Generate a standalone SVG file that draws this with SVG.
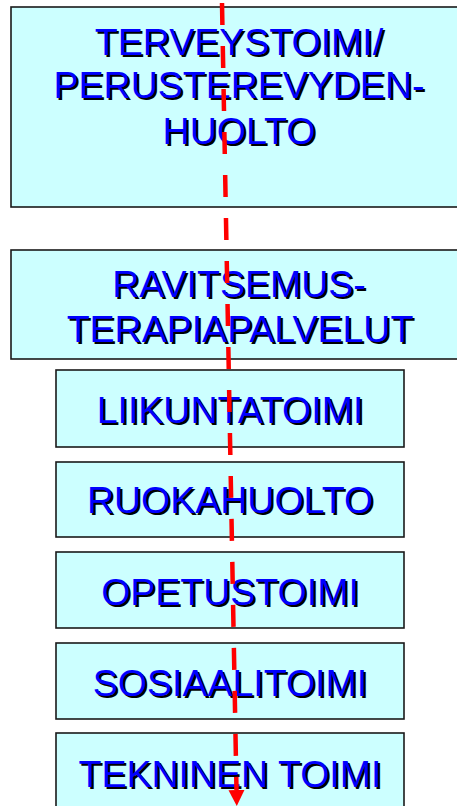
<svg xmlns="http://www.w3.org/2000/svg" width="457" height="806" viewBox="0 0 457 806">
<style>
.box{fill:#CCFFFF;stroke:#1a1a1a;stroke-width:1.6}
.t{font-family:"Liberation Sans",Arial,sans-serif;font-size:37.5px;text-anchor:middle}
.sh{fill:#000}
.fg{fill:#0000FF}
.conn{stroke:#FF0000;stroke-width:4.5;stroke-dasharray:22 21;fill:none}
</style>
<defs>
<marker id="arr" viewBox="0 0 10 10" refX="0" refY="5" markerWidth="16" markerHeight="19" markerUnits="userSpaceOnUse" orient="auto">
<path d="M0,0 L10,5 L0,10 z" fill="#FF0000"/>
</marker>
</defs>
<rect width="457" height="806" fill="#FFFFFF"/>
<g id="n1">
<rect class="box" x="11" y="7" width="460" height="200"/>
<text class="t sh" x="241" y="57">TERVEYSTOIMI/</text>
<text class="t fg" x="239" y="55">TERVEYSTOIMI/</text>
<text class="t sh" x="241" y="100">PERUSTEREVYDEN-</text>
<text class="t fg" x="239" y="98">PERUSTEREVYDEN-</text>
<text class="t sh" x="241" y="146">HUOLTO</text>
<text class="t fg" x="239" y="144">HUOLTO</text>
</g>
<g id="n2">
<rect class="box" x="11" y="250" width="460" height="109"/>
<text class="t sh" x="241" y="299">RAVITSEMUS-</text>
<text class="t fg" x="239" y="297">RAVITSEMUS-</text>
<text class="t sh" x="242" y="344">TERAPIAPALVELUT</text>
<text class="t fg" x="240" y="342">TERAPIAPALVELUT</text>
</g>
<g id="n3">
<rect class="box" x="56" y="370" width="348" height="77"/>
<text class="t sh" x="232" y="425">LIIKUNTATOIMI</text>
<text class="t fg" x="230" y="423">LIIKUNTATOIMI</text>
</g>
<g id="n4">
<rect class="box" x="56" y="462" width="348" height="75"/>
<text class="t sh" x="232" y="515">RUOKAHUOLTO</text>
<text class="t fg" x="230" y="513">RUOKAHUOLTO</text>
</g>
<g id="n5">
<rect class="box" x="56" y="552" width="348" height="76"/>
<text class="t sh" x="232" y="607">OPETUSTOIMI</text>
<text class="t fg" x="230" y="605">OPETUSTOIMI</text>
</g>
<g id="n6">
<rect class="box" x="56" y="643" width="348" height="76"/>
<text class="t sh" x="232" y="698">SOSIAALITOIMI</text>
<text class="t fg" x="230" y="696">SOSIAALITOIMI</text>
</g>
<g id="n7">
<rect class="box" x="56" y="733" width="348" height="90"/>
<text class="t sh" x="232" y="789">TEKNINEN TOIMI</text>
<text class="t fg" x="230" y="787">TEKNINEN TOIMI</text>
</g>
<g id="connectors">
<path class="conn" d="M222,3 L236.5,790" marker-end="url(#arr)"/>
</g>
</svg>
